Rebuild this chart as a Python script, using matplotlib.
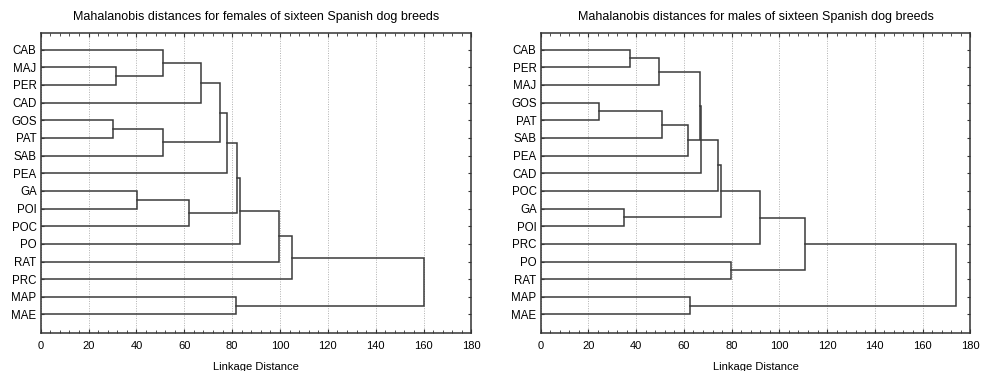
import matplotlib
matplotlib.use('Agg')
import matplotlib.pyplot as plt
from matplotlib.ticker import MultipleLocator

plt.rcParams['font.family'] = ['Liberation Sans', 'DejaVu Sans']

# leaf order (top to bottom) and merges: (child a, child b, linkage distance)
# children are leaf names or 'mN' for the N-th merge
leaves_f = ['CAB', 'MAJ', 'PER', 'CAD', 'GOS', 'PAT', 'SAB', 'PEA',
            'GA', 'POI', 'POC', 'PO', 'RAT', 'PRC', 'MAP', 'MAE']
merges_f = [('MAJ', 'PER', 31.4), ('CAB', 'm0', 51.0), ('m1', 'CAD', 66.9),
            ('GOS', 'PAT', 30.0), ('m3', 'SAB', 51.0), ('m2', 'm4', 75.0),
            ('m5', 'PEA', 77.9), ('GA', 'POI', 40.4), ('m7', 'POC', 62.0),
            ('m6', 'm8', 82.0), ('m9', 'PO', 83.4), ('m10', 'RAT', 99.4),
            ('m11', 'PRC', 105.0), ('MAP', 'MAE', 81.6), ('m12', 'm13', 160.4)]

leaves_m = ['CAB', 'PER', 'MAJ', 'GOS', 'PAT', 'SAB', 'PEA', 'CAD',
            'POC', 'GA', 'POI', 'PRC', 'PO', 'RAT', 'MAP', 'MAE']
merges_m = [('CAB', 'PER', 37.4), ('m0', 'MAJ', 49.7), ('GOS', 'PAT', 24.6),
            ('m2', 'SAB', 51.0), ('m3', 'PEA', 61.7), ('m1', 'm4', 66.6),
            ('m5', 'CAD', 67.0), ('m6', 'POC', 74.4), ('GA', 'POI', 35.0),
            ('m7', 'm8', 75.7), ('m9', 'PRC', 91.7), ('PO', 'RAT', 79.9),
            ('m10', 'm11', 110.9), ('MAP', 'MAE', 62.4), ('m12', 'm13', 174.0)]

titles = ['Mahalanobis distances for females of sixteen Spanish dog breeds',
          'Mahalanobis distances for males of sixteen Spanish dog breeds']
xticks = [0, 20, 40, 60, 80, 100, 120, 140, 160, 180]


def draw_tree(ax, leaves, merges):
    pos = {name: (0.0, i + 1) for i, name in enumerate(leaves)}
    for k, (a, b, h) in enumerate(merges):
        xa, ya = pos[a]
        xb, yb = pos[b]
        ax.plot([xa, h, h, xb], [ya, ya, yb, yb], color='#3a3a3a', lw=1.1,
                solid_joinstyle='miter', zorder=3)
        pos['m%d' % k] = (h, (ya + yb) / 2)
    ax.set_yticks(range(1, len(leaves) + 1))
    ax.set_yticklabels(leaves)


fig = plt.figure(figsize=(9.82, 3.71), dpi=100)
boxes = [[0.0415, 0.1024, 0.4385, 0.809], [0.5506, 0.1024, 0.4375, 0.809]]
data = [(leaves_f, merges_f), (leaves_m, merges_m)]

for box, (lv, mg), title in zip(boxes, data, titles):
    ax = fig.add_axes(box)
    draw_tree(ax, lv, mg)
    ax.set_xlim(0, 180)
    ax.set_ylim(17.05, 0.05)
    ax.set_xticks(xticks)
    ax.xaxis.set_minor_locator(MultipleLocator(4))
    ax.grid(axis='x', which='major', color='#b0b0b0', ls=(0, (1, 1.5)), lw=0.7)
    ax.tick_params(axis='x', which='both', direction='in', top=True,
                   labelsize=8, colors='#333333', labelcolor='black')
    ax.tick_params(axis='x', which='major', length=3, pad=6)
    ax.tick_params(axis='x', which='minor', length=2)
    ax.tick_params(axis='y', direction='in', right=True, length=2.5,
                   labelsize=8.3, pad=3, colors='#333333', labelcolor='black')
    for s in ax.spines.values():
        s.set_color('#333333')
        s.set_linewidth(1.1)
    ax.set_title(title, fontsize=9, pad=9)
    ax.set_xlabel('Linkage Distance', fontsize=8, labelpad=7.5)

fig.savefig('out.png', dpi=100)
